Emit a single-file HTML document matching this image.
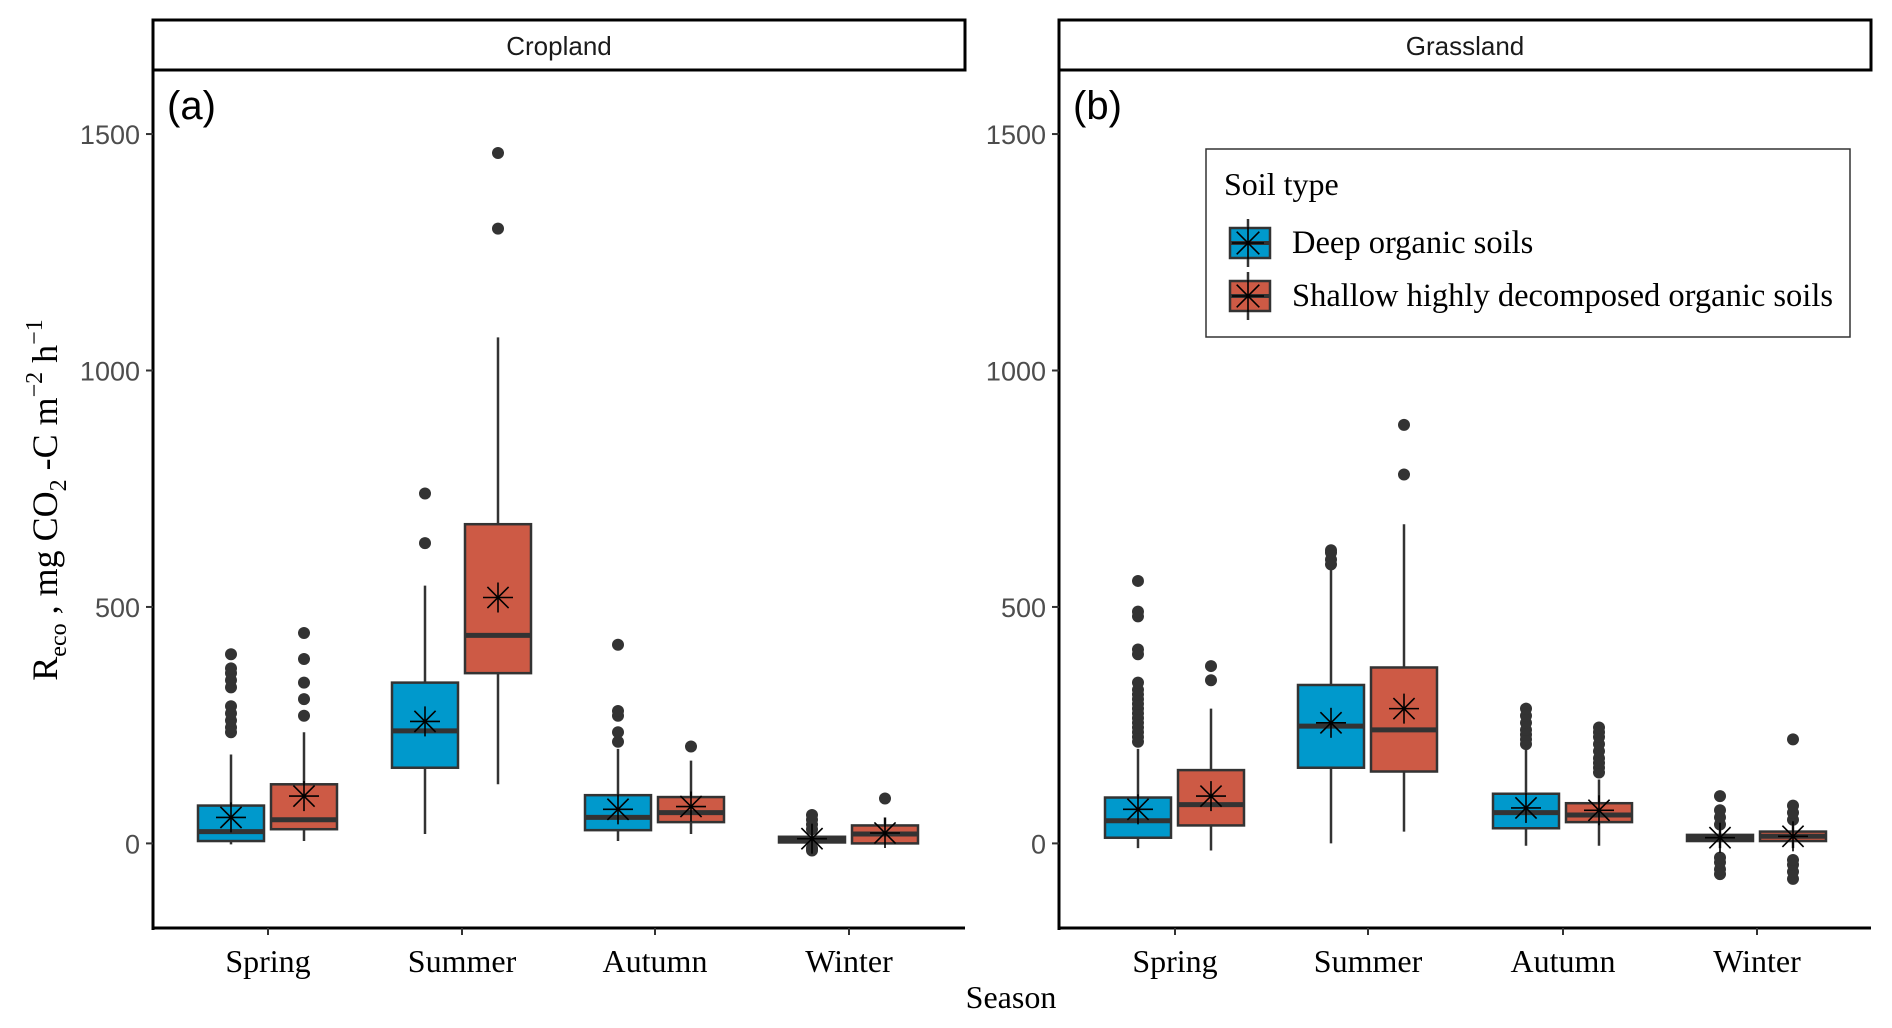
<!DOCTYPE html>
<html><head><meta charset="utf-8"><style>
html,body{margin:0;padding:0;background:#fff;}
svg{display:block;}
.tick{font-family:"Liberation Sans",sans-serif;font-size:27px;fill:#4d4d4d;}
.serif{font-family:"Liberation Serif",serif;fill:#000;}
</style></head><body>
<svg id="chart" width="1892" height="1028" viewBox="0 0 1892 1028" xmlns="http://www.w3.org/2000/svg"></svg>
<script>
const seasons = ["Spring","Summer","Autumn","Winter"];
const yTicks = [0,500,1000,1500];
// stats per panel: [season][soil] = [lo, q1, med, q3, hi, mean]
const cropDeep    = [[-2,5,25,80,188,55],[20,160,238,340,545,258],[5,28,55,102,200,72],[-5,2,8,14,25,10]];
const cropShallow = [[5,30,50,125,235,100],[125,360,440,675,1070,520],[20,45,65,98,175,78],[0,0,20,38,55,22]];
const grassDeep    = [[-10,12,48,97,200,72],[0,160,248,335,580,255],[-5,32,65,105,200,75],[-10,5,12,18,35,12]];
const grassShallow = [[-15,38,82,155,285,100],[25,152,240,372,675,285],[-5,45,60,85,135,70],[-10,5,15,25,40,15]];
const cropDeepOut    = [[235,245,260,275,290,330,345,360,370,400],[635,740],[215,235,270,280,420],[-15,-10,30,40,50,60]];
const cropShallowOut = [[270,305,340,390,445],[1300,1460],[205],[95]];
const grassDeepOut    = [[215,225,235,245,255,265,275,285,295,305,315,325,340,400,410,480,490,555],[590,600,615,620],[210,220,230,240,255,270,285],[-65,-55,-40,-30,40,55,70,100]];
const grassShallowOut = [[345,375],[780,885],[150,160,170,180,195,210,225,235,245],[-75,-60,-45,-35,50,65,80,220]];

const NS="http://www.w3.org/2000/svg";
const svg=document.getElementById('chart');
function el(tag,attrs,parent){const e=document.createElementNS(NS,tag);for(const k in attrs)e.setAttribute(k,attrs[k]);(parent||svg).appendChild(e);return e;}
const Y=v=>843.4-v*0.4729;
const BLUE="#0099CC", RED="#CD5A45", INK="#333333";

const panels=[
 {name:"cropland",title:"Cropland",tag:"(a)",x0:153,x1:965,centers:[268,462,655,849],deep:cropDeep,sh:cropShallow,dO:cropDeepOut,sO:cropShallowOut},
 {name:"grassland",title:"Grassland",tag:"(b)",x0:1059,x1:1871,centers:[1175,1368,1563,1757],deep:grassDeep,sh:grassShallow,dO:grassDeepOut,sO:grassShallowOut}
];
function star(g,cx,cy,r){
  for(let a=0;a<180;a+=45){const t=a*Math.PI/180;
    el('line',{x1:cx-r*Math.cos(t),y1:cy-r*Math.sin(t),x2:cx+r*Math.cos(t),y2:cy+r*Math.sin(t),stroke:"#000","stroke-width":1.6},g);}
}
function box(g,cx,s,out,fill,name){
  const w=66,bg=el('g',{},g);
  
  
  el('line',{x1:cx,x2:cx,y1:Y(s[0]),y2:Y(s[4]),stroke:INK,"stroke-width":2.5},bg);
  el('rect',{x:cx-w/2,y:Y(s[3]),width:w,height:Math.max(Y(s[1])-Y(s[3]),3),fill:fill,stroke:INK,"stroke-width":2.5},bg);
  el('line',{x1:cx-w/2,x2:cx+w/2,y1:Y(s[2]),y2:Y(s[2]),stroke:INK,"stroke-width":5},bg);
  out.forEach(v=>el('circle',{cx:cx,cy:Y(v),r:6,fill:INK},bg));
  star(bg,cx,Y(s[5]),15);
}
panels.forEach(p=>{
  const g=el('g',{});
  
  
  const st=el('rect',{x:p.x0,y:20,width:p.x1-p.x0,height:50,fill:"#fff",stroke:"#000","stroke-width":3},g);
  
  
  const tt=el('text',{x:(p.x0+p.x1)/2,y:55,"text-anchor":"middle","font-family":"Liberation Sans, sans-serif","font-size":26,fill:"#1a1a1a"},g);
  tt.textContent=p.title;
  
  
  el('line',{x1:p.x0,x2:p.x0,y1:70,y2:930,stroke:"#000","stroke-width":3},g);
  el('line',{x1:p.x0-1.5,x2:p.x1,y1:928,y2:928,stroke:"#000","stroke-width":3},g);
  const tg=el('text',{x:p.x0+14,y:119,"font-family":"Liberation Sans, sans-serif","font-size":40,fill:"#000"},g);
  tg.textContent=p.tag;
  
  
  yTicks.forEach(v=>{
    el('line',{x1:p.x0-7,x2:p.x0,y1:Y(v),y2:Y(v),stroke:"#333","stroke-width":2},g);
    const t=el('text',{x:p.x0-13,y:Y(v)+10,"text-anchor":"end",class:"tick"},g);
    t.textContent=v;
    
    
  });
  seasons.forEach((s,i)=>{
    const cx=p.centers[i];
    el('line',{x1:cx,x2:cx,y1:928,y2:935,stroke:"#333","stroke-width":2},g);
    const t=el('text',{x:cx,y:972,"text-anchor":"middle",class:"serif","font-size":32},g);
    t.textContent=s;
    
    
    box(g,cx-37,p.deep[i],p.dO[i],BLUE,p.name+'-'+s.toLowerCase()+'-deep-box');
    box(g,cx+36,p.sh[i],p.sO[i],RED,p.name+'-'+s.toLowerCase()+'-shallow-box');
  });
});
// legend
const lg=el('g',{});


el('rect',{x:1206,y:149,width:644,height:188,fill:"#fff",stroke:"#333","stroke-width":1.5},lg);
const lt=el('text',{x:1224,y:195,class:"serif","font-size":32},lg);
lt.textContent="Soil type";


[["Deep organic soils",BLUE,243],["Shallow highly decomposed organic soils",RED,296]].forEach(([lab,c,y])=>{
  const e=el('g',{},lg);
  
  
  el('line',{x1:1248,x2:1248,y1:y-24,y2:y+24,stroke:INK,"stroke-width":2.5},e);
  el('rect',{x:1230,y:y-15,width:40,height:30,fill:c,stroke:INK,"stroke-width":2.5},e);
  el('line',{x1:1230,x2:1270,y1:y,y2:y,stroke:INK,"stroke-width":4},e);
  star(e,1248,y,16);
  const t=el('text',{x:1292,y:y+10,class:"serif","font-size":32.5},e);
  t.textContent=lab;
});
// axis titles
const xt=el('text',{x:1011,y:1008,"text-anchor":"middle",class:"serif","font-size":32});
xt.textContent="Season";


const yt=el('text',{transform:"translate(57,500) rotate(-90)","text-anchor":"middle",class:"serif","font-size":36});


yt.innerHTML='R<tspan font-size="24" dy="9">eco</tspan><tspan dy="-9"> , mg CO</tspan><tspan font-size="24" dy="9">2</tspan><tspan dy="-9"> -C m</tspan><tspan font-size="24" dy="-15">−2</tspan><tspan dy="15"> h</tspan><tspan font-size="24" dy="-15">−1</tspan>';
</script>
</body></html>
